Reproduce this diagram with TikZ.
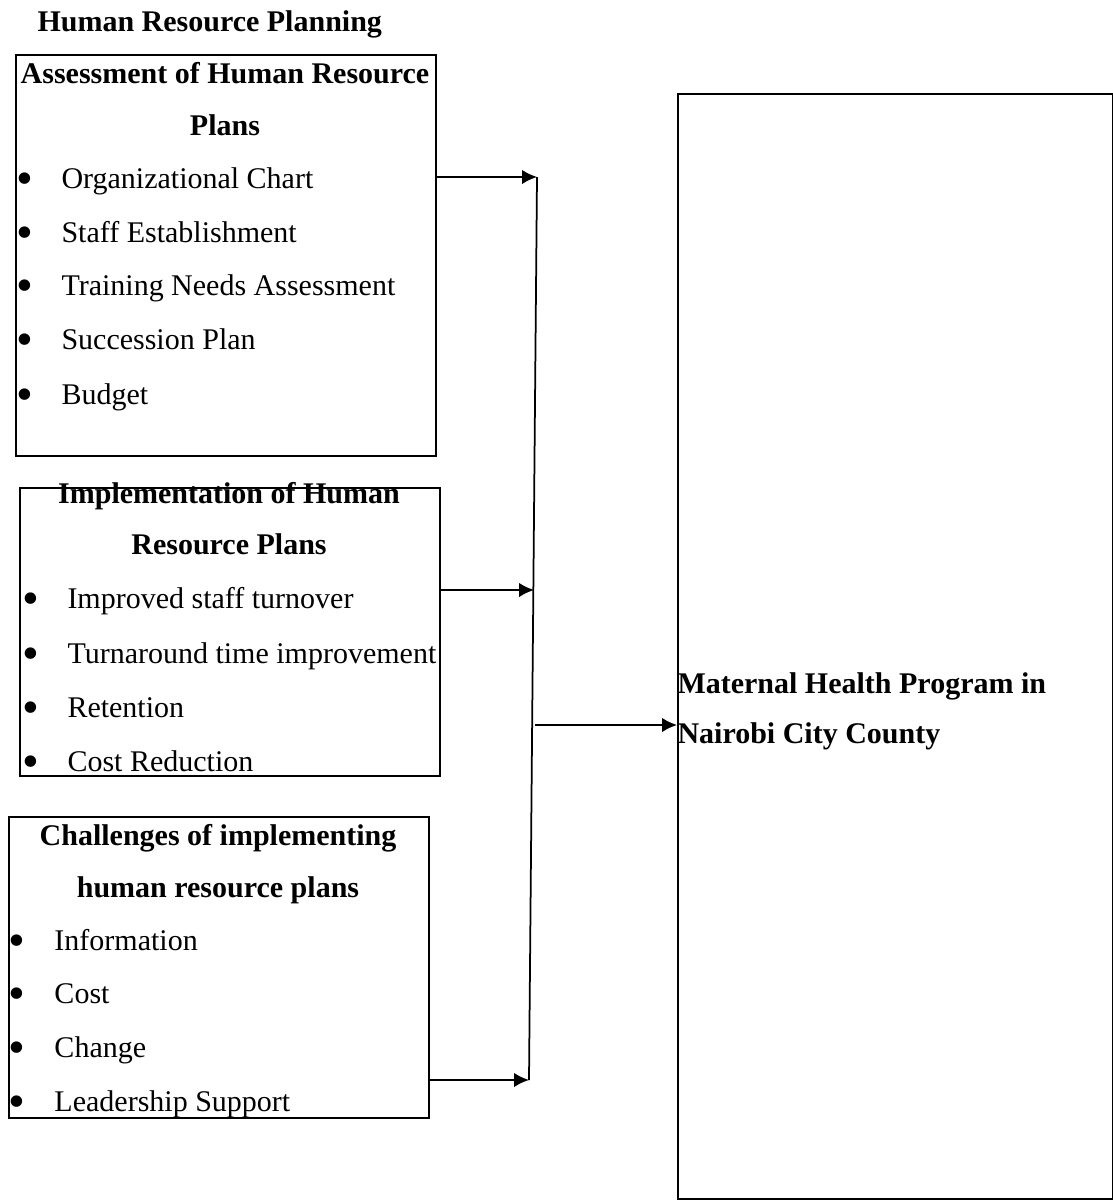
\documentclass[tikz,border=0pt]{standalone}
\usepackage{fontspec}
\setmainfont{Liberation Serif}
\usetikzlibrary{arrows.meta}

\newcommand{\bitem}[1]{\makebox[17.6pt][l]{\hspace{-0.6pt}\raisebox{-2.6pt}{\scalebox{1.6}{\textbullet}}}#1}

\tikzset{
  box/.style={draw, line width=0.7pt, inner sep=0pt, anchor=north west},
  head/.style={font=\fontsize{12}{14}\selectfont\bfseries, inner sep=0pt, anchor=base},
  item/.style={font=\fontsize{12}{14}\selectfont, inner sep=0pt, anchor=base west},
  link/.style={line width=0.7pt},
  arr/.style={line width=0.7pt, -{Latex[length=6pt,width=5.8pt]}}
}

\begin{document}
\begin{tikzpicture}[x=0.4pt,y=-0.4pt]
  \useasboundingbox (0,0) rectangle (1113,1200);

  \node[head, anchor=base west] (hrp) at (37,31) {Human Resource Planning};

  % assessment box
  \node[box, minimum width=168pt, minimum height=160.4pt] (assess) at (15,54) {};
  \node[head] (a1) at (225,83) {Assessment of Human Resource};
  \node[head] (a2) at (225,135) {Plans};
  \node[item] (a3) at (17,188) {\bitem{Organizational Chart}};
  \node[item] (a4) at (17,242) {\bitem{Staff Establishment}};
  \node[item] (a5) at (17,295) {\bitem{Training Needs Assessment}};
  \node[item] (a6) at (17,349) {\bitem{Succession Plan}};
  \node[item] (a7) at (17,404) {\bitem{Budget}};

  % implementation box
  \node[box, minimum width=168pt, minimum height=115.2pt] (impl) at (19,487) {};
  \node[head] (i1) at (229,503) {Implementation of Human};
  \node[head] (i2) at (229,554) {Resource Plans};
  \node[item] (i3) at (23,608) {\bitem{Improved staff turnover}};
  \node[item] (i4) at (23,663) {\bitem{Turnaround time improvement}};
  \node[item] (i5) at (23,717) {\bitem{Retention}};
  \node[item] (i6) at (23,771) {\bitem{Cost Reduction}};

  % challenges box
  \node[box, minimum width=168pt, minimum height=120.4pt] (chall) at (8,816) {};
  \node[head] (c1) at (218,845) {Challenges of implementing};
  \node[head] (c2) at (218,897) {human resource plans};
  \node[item] (c3) at (10,950) {\bitem{Information}};
  \node[item] (c4) at (10,1003) {\bitem{Cost}};
  \node[item] (c5) at (10,1057) {\bitem{Change}};
  \node[item] (c6) at (10,1111) {\bitem{Leadership Support}};

  % dependent variable
  \node[box, minimum width=174pt, minimum height=442pt] (mhp) at (677,93) {};
  \node[head, anchor=base west] (m1) at (677,693) {Maternal Health Program in};
  \node[head, anchor=base west] (m2) at (677,743) {Nairobi City County};

  \coordinate (j1) at (537,177);
  \coordinate (j2) at (534,590);
  \coordinate (j3) at (529,1080);
  \coordinate (jm) at (535,725);

  \draw[arr] (j1 -| assess.east) -- (j1);
  \draw[arr] (j2 -| impl.east) -- (j2);
  \draw[arr] (j3 -| chall.east) -- (j3);
  \draw[link] (j1) -- (j3);
  \draw[arr] (jm) -- (jm -| mhp.west);
\end{tikzpicture}
\end{document}
